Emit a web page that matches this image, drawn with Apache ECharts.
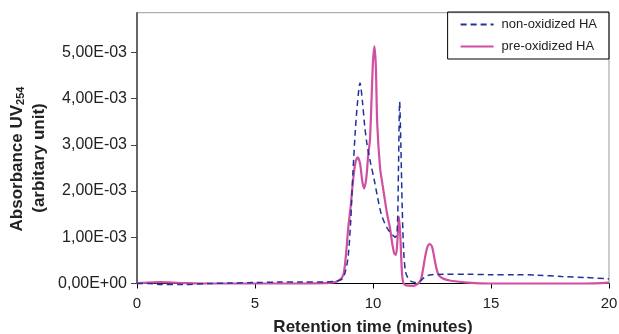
<!DOCTYPE html>
<html>
<head>
<meta charset="utf-8">
<script src="https://cdn.jsdelivr.net/npm/echarts@6/dist/echarts.min.js"></script>
<style>
  html, body { margin: 0; padding: 0; background: #fff; }
  #chart { width: 619px; height: 334px; }
</style>
</head>
<body>
<div id="chart"></div>
<script>
// values are in units of 1e-3 absorbance
const nonOxTime = [0, 0.5, 1, 2, 3, 4, 5, 6, 7, 8, 8.4, 8.7, 8.85, 8.95, 9.05, 9.15, 9.25, 9.35, 9.45, 9.55, 9.65, 9.75, 9.9, 10.05, 10.2, 10.35, 10.5, 10.65, 10.8, 10.95, 11.03, 11.08, 11.13, 11.18, 11.24, 11.3, 11.38, 11.5, 11.6, 11.8, 12.0, 12.15, 12.3, 12.5, 13, 14, 15, 16, 17, 18, 19, 20]
const nonOxAbs = [0, 0, -0.02, -0.02, 0, 0.01, 0.02, 0.03, 0.03, 0.03, 0.05, 0.1, 0.3, 0.6, 1.3, 2.4, 3.3, 3.95, 4.34, 3.95, 3.4, 3.0, 2.6, 2.25, 1.85, 1.5, 1.3, 1.16, 1.07, 1.0, 1.2, 2.5, 3.93, 3.0, 1.6, 0.7, 0.25, 0.1, 0.05, 0.02, 0.05, 0.12, 0.17, 0.19, 0.2, 0.2, 0.19, 0.19, 0.18, 0.15, 0.13, 0.1]

const preOxTime = [0, 0.5, 1, 1.5, 2, 3, 4, 5, 6, 7, 8, 8.4, 8.6, 8.75, 8.85, 8.95, 9.05, 9.15, 9.25, 9.35, 9.45, 9.55, 9.63, 9.72, 9.8, 9.87, 9.94, 10.0, 10.06, 10.12, 10.18, 10.3, 10.4, 10.5, 10.6, 10.72, 10.82, 10.9, 10.97, 11.03, 11.1, 11.16, 11.22, 11.28, 11.4, 11.7, 12.0, 12.1, 12.2, 12.3, 12.4, 12.5, 12.6, 12.7, 12.8, 13.0, 13.3, 14, 15, 16, 17, 18, 19, 20]
const preOxAbs = [0.01, 0.02, 0.03, 0.02, 0.01, 0, 0, 0, 0, 0, 0.01, 0.03, 0.08, 0.2, 0.6, 1.2, 1.65, 2.2, 2.6, 2.73, 2.6, 2.2, 2.06, 2.3, 2.8, 3.1, 4.0, 4.8, 5.13, 4.7, 3.45, 2.5, 2.15, 1.82, 1.5, 1.2, 0.85, 0.65, 0.62, 0.9, 1.45, 1.0, 0.3, 0.02, -0.04, -0.05, 0.05, 0.25, 0.55, 0.78, 0.85, 0.8, 0.55, 0.3, 0.17, 0.1, 0.06, 0.02, 0, 0, 0, 0, 0, 0.02]

const seriesNames = ['non-oxidized HA', 'pre-oxidized HA']

const pairs = (xs, ys) => xs.map((x, i) => [x, ys[i]])

const chart = echarts.init(document.getElementById('chart'))

const option = {
  animation: false,
  backgroundColor: '#fff',
  textStyle: { fontFamily: 'Liberation Sans, Arial, sans-serif' },
  grid: {
    left: 137,
    right: 10,
    top: 12.7,
    bottom: 50.5,
    outerBoundsMode: 'none',
    show: true,
    borderColor: '#999',
    borderWidth: 1
  },
  legend: {
    orient: 'vertical',
    right: 10,
    top: 12,
    data: seriesNames,
    borderColor: '#000',
    borderWidth: 1,
    padding: [6, 12, 6, 12],
    itemWidth: 33,
    itemHeight: 14,
    itemGap: 9,
    itemStyle: { opacity: 0 },
    textStyle: { fontSize: 13, color: '#222', padding: [0, 0, 0, 3] }
  },
  xAxis: {
    type: 'value',
    min: 0,
    max: 20,
    interval: 5,
    name: 'Retention time (minutes)',
    nameLocation: 'middle',
    nameGap: 35,
    nameTextStyle: { fontSize: 17, fontWeight: 'bold', color: '#222' },
    splitLine: { show: false },
    axisLine: { lineStyle: { color: '#000', width: 1.2 } },
    axisTick: { length: 5, lineStyle: { color: '#000' } },
    axisLabel: { fontSize: 15, color: '#222', margin: 13 }
  },
  yAxis: {
    type: 'value',
    min: 0,
    max: 5.86,
    interval: 1,
    splitLine: { show: false },
    axisLine: { show: true, lineStyle: { color: '#444', width: 1.5 } },
    axisTick: { show: true, length: 6, lineStyle: { color: '#444' } },
    axisLabel: {
      fontSize: 16,
      color: '#222',
      margin: 10,
      showMaxLabel: false,
      formatter: v => v === 0 ? '0,00E+00' : v.toFixed(2).replace('.', ',') + 'E-03'
    }
  },
  graphic: [
    {
      type: 'text',
      x: 17,
      y: 159,
      rotation: Math.PI / 2,
      style: {
        text: 'Absorbance UV{sub|254}',
        align: 'center',
        verticalAlign: 'middle',
        fontSize: 17,
        fontWeight: 'bold',
        fontFamily: 'Liberation Sans, Arial, sans-serif',
        fill: '#222',
        rich: {
          sub: { fontSize: 11, fontWeight: 'bold', verticalAlign: 'bottom', padding: [8, 0, 0, 0] }
        }
      }
    },
    {
      type: 'text',
      x: 39,
      y: 158,
      rotation: Math.PI / 2,
      style: {
        text: '(arbitary unit)',
        align: 'center',
        verticalAlign: 'middle',
        fontSize: 17,
        fontWeight: 'bold',
        fontFamily: 'Liberation Sans, Arial, sans-serif',
        fill: '#222'
      }
    }
  ],
  series: [
    {
      name: seriesNames[0],
      type: 'line',
      data: pairs(nonOxTime, nonOxAbs),
      showSymbol: false,
      symbol: 'none',
      smooth: 0.3,
      clip: false,
      lineStyle: { color: '#23329a', width: 1.5, type: [6, 4] },
      itemStyle: { color: '#23329a' },
      z: 3
    },
    {
      name: seriesNames[1],
      type: 'line',
      data: pairs(preOxTime, preOxAbs),
      showSymbol: false,
      symbol: 'none',
      smooth: 0.3,
      clip: false,
      lineStyle: { color: '#d04fa0', width: 2.2 },
      itemStyle: { color: '#d04fa0' },
      z: 2
    }
  ]
}

chart.setOption(option)
</script>
</body>
</html>
